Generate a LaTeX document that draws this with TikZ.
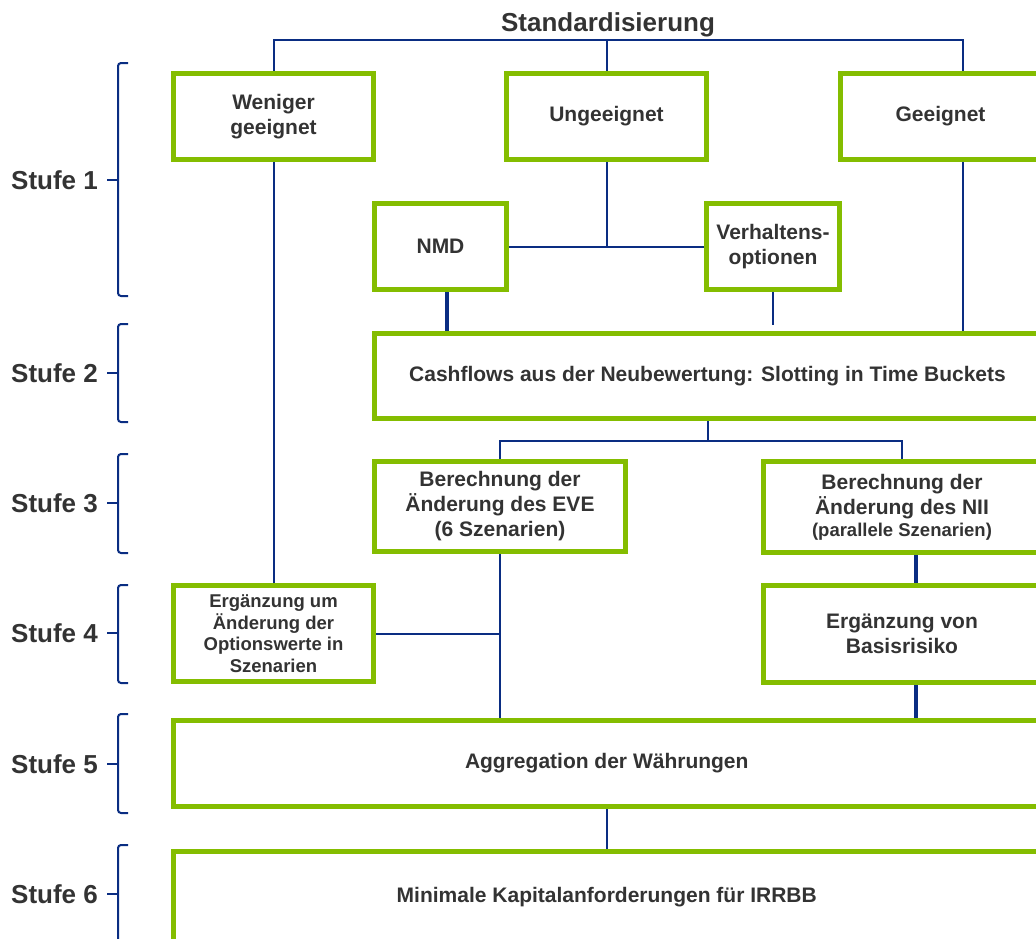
\documentclass[tikz,border=0pt]{standalone}
\usepackage{fontspec}
\setmainfont{Liberation Sans}
\usetikzlibrary{calc}
\pgfdeclarelayer{background}
\pgfsetlayers{background,main}
\definecolor{boxgreen}{RGB}{132,189,0}
\definecolor{linkblue}{RGB}{10,45,130}
\definecolor{txtgray}{RGB}{51,51,51}
\tikzset{
  stepbox/.style={draw=boxgreen, line width=5pt, fill=white, inner sep=0pt,
    text=txtgray, font=\bfseries\fontsize{21}{25}\selectfont, align=center},
  smallbox/.style={stepbox, font=\bfseries\fontsize{18.5}{21.5}\selectfont},
  link/.style={draw=linkblue, line width=2pt},
  thicklink/.style={draw=linkblue, line width=4pt},
  bracket/.style={draw=linkblue, line width=2pt, rounded corners=3pt},
  stufe/.style={anchor=base west, inner sep=0pt, text=txtgray,
    font=\bfseries\fontsize{26}{30}\selectfont},
  titletext/.style={anchor=base, inner sep=0pt, text=txtgray,
    font=\bfseries\fontsize{26}{30}\selectfont},
}
\begin{document}
\begin{tikzpicture}[x=1pt,y=-1pt]
\useasboundingbox (0,0) rectangle (1036,938);
\clip (0,0) rectangle (1036,938);

% title
\node[titletext] (T) at (608,31.5) {Standardisierung};

% boxes
\node[stepbox, minimum width=200pt, minimum height=86pt] (W) at (273.5,116.5) {Weniger\\geeignet};
\node[stepbox, minimum width=200pt, minimum height=86pt] (U) at (606.5,116.5) {Ungeeignet};
\node[stepbox, minimum width=200pt, minimum height=86pt] (G) at (940.5,116.5) {Geeignet};
\node[stepbox, minimum width=132pt, minimum height=86pt] (N) at (440.5,246.5) {NMD};
\node[stepbox, minimum width=133pt, minimum height=86pt] (V) at (773,246.5) {Verhaltens-\\optionen};
\node[stepbox, minimum width=666pt, minimum height=85pt] (C) at (707.5,376) {Cashflows aus der Neubewertung: Slotting in Time Buckets};
\node[stepbox, minimum width=250.5pt, minimum height=90pt] (EVE) at (500,506.5) {Berechnung der\\Änderung des EVE\\(6 Szenarien)};
\node[stepbox, minimum width=277pt, minimum height=91pt] (NII) at (902,507) {Berechnung der\\Änderung des NII\\[-3pt]{\fontsize{18.5}{20}\selectfont (parallele Szenarien)}};
\node[smallbox, minimum width=200pt, minimum height=96pt] (E4) at (273.5,633.5) {Ergänzung um\\Änderung der\\Optionswerte in\\Szenarien};
\node[stepbox, minimum width=277pt, minimum height=97pt] (B) at (902,634) {Ergänzung von\\Basisrisiko};
\node[stepbox, minimum width=867.5pt, minimum height=86pt] (A) at (606.75,763.5) {Aggregation der Währungen};
\node[stepbox, minimum width=867.5pt, minimum height=92pt] (M) at (606.75,897.5) {\raisebox{-2pt}{Minimale Kapitalanforderungen für IRRBB}};

% connectors
\begin{pgfonlayer}{background}
\draw[link] (W.north) -- ++(0,-31.5) -| ([xshift=22.5pt]G.north);
\draw[link] (U.north) -- ++(0,-31.5);
\draw[link] (U.south) -- (U.south |- N.east);
\draw[link] (N.east) -- (V.west);
\draw[thicklink] ([xshift=6.5pt]N.south) -- ([xshift=6.5pt]N.south |- C.north);
\draw[link] (V.south) -- ($(V.south |- C.north)+(0,-6)$);
\draw[link] ([xshift=22.5pt]G.south) -- ([xshift=22.5pt]G.south |- C.north);
\draw[link] (W.south) -- (E4.north);
\draw[link] (C.south) -- ++(0,20);
\draw[link] (EVE.north) |- ($(C.south)+(0,20)$) -| (NII.north);
\draw[link] (EVE.south) -- (EVE.south |- A.north);
\draw[link] (E4.east) -- (E4.east -| EVE.south);
\draw[thicklink] ([xshift=14pt]NII.south) -- ([xshift=14pt]B.north);
\draw[thicklink] ([xshift=14pt]B.south) -- ([xshift=14pt]B.south |- A.north);
\draw[link] (A.south) -- (M.north);
\end{pgfonlayer}

% brackets and stage labels
\draw[bracket] (128,63) -- (118,63) -- (118,296) -- (128,296);
\draw[link] (118,180) -- (107,180);
\node[stufe] (s1) at (11,189.3) {Stufe 1};

\draw[bracket] (128,324) -- (118,324) -- (118,422) -- (128,422);
\draw[link] (118,373) -- (107,373);
\node[stufe] (s2) at (11,382.3) {Stufe 2};

\draw[bracket] (128,454) -- (118,454) -- (118,553) -- (128,553);
\draw[link] (118,503) -- (107,503);
\node[stufe] (s3) at (11,512.3) {Stufe 3};

\draw[bracket] (128,585) -- (118,585) -- (118,683) -- (128,683);
\draw[link] (118,633) -- (107,633);
\node[stufe] (s4) at (11,642.3) {Stufe 4};

\draw[bracket] (128,714) -- (118,714) -- (118,813) -- (128,813);
\draw[link] (118,764) -- (107,764);
\node[stufe] (s5) at (11,773.3) {Stufe 5};

\draw[bracket] (128,845) -- (118,845) -- (118,960);
\draw[link] (118,894) -- (107,894);
\node[stufe] (s6) at (11,903.3) {Stufe 6};
\end{tikzpicture}
\end{document}
